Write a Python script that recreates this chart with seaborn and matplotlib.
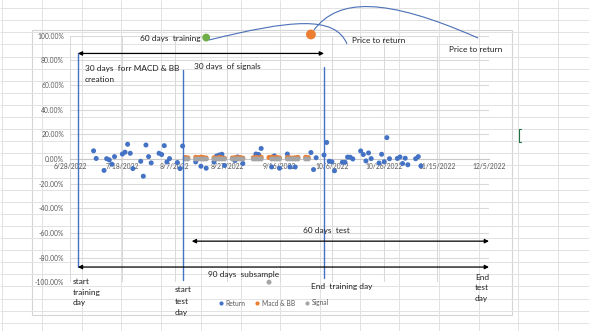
import numpy as np
import pandas as pd
import matplotlib
matplotlib.use("Agg")
import matplotlib.pyplot as plt
import matplotlib.dates as mdates
import matplotlib.ticker as mticker
from matplotlib.path import Path
from matplotlib.patches import PathPatch, Rectangle
from matplotlib.lines import Line2D
import seaborn as sns

# ---------------- data (values in %) ----------------
return_dates = ["2022-07-07", "2022-07-08", "2022-07-11", "2022-07-12", "2022-07-13", "2022-07-14",
                "2022-07-15", "2022-07-18", "2022-07-19", "2022-07-20", "2022-07-21", "2022-07-22",
                "2022-07-25", "2022-07-26", "2022-07-27", "2022-07-28", "2022-07-29", "2022-08-01",
                "2022-08-02", "2022-08-03", "2022-08-04", "2022-08-05", "2022-08-08", "2022-08-09",
                "2022-08-10", "2022-08-15", "2022-08-17", "2022-08-19", "2022-08-22", "2022-08-23",
                "2022-08-24", "2022-08-25", "2022-08-26", "2022-08-30", "2022-08-31", "2022-09-02",
                "2022-09-07", "2022-09-08", "2022-09-09", "2022-09-13", "2022-09-14", "2022-09-16",
                "2022-09-19", "2022-09-20", "2022-09-22", "2022-09-23", "2022-09-28", "2022-09-29",
                "2022-09-30", "2022-10-03", "2022-10-04", "2022-10-05", "2022-10-06", "2022-10-07",
                "2022-10-10", "2022-10-11", "2022-10-12", "2022-10-13", "2022-10-14", "2022-10-17",
                "2022-10-18", "2022-10-19", "2022-10-20", "2022-10-21", "2022-10-24", "2022-10-25",
                "2022-10-26", "2022-10-27", "2022-10-28", "2022-10-31", "2022-11-01", "2022-11-02",
                "2022-11-03", "2022-11-04", "2022-11-07", "2022-11-08", "2022-11-09"]
return_values = [6.6, 0.4, -9.3, 0.2, -0.8, -4.3,
                 1.9, 4.0, 5.5, 11.9, 4.6, -7.8,
                 -1.9, -14.0, 11.3, 1.9, -3.2, 4.6,
                 3.6, 10.8, -2.4, 0.3, -2.9, -7.8,
                 10.5, -2.4, -5.9, -7.5, -2.4, 2.4,
                 3.2, 3.8, -5.3, -1.3, 1.6, -3.7,
                 4.0, 3.6, 8.5, -6.5, 2.5, -7.5,
                 4.0, -6.5, -6.5, 1.1, 5.2, -8.6,
                 1.0, 3.2, 13.4, -1.9, -2.3, -9.6,
                 -2.7, -2.7, 1.5, 1.4, 0.0, 6.5,
                 3.6, -1.6, 4.9, 0.3, -3.3, 3.8,
                 -2.3, 17.3, 0.2, 0.4, 1.6, -3.7,
                 0.6, -4.7, 0.2, 1.9, -5.7]

signal_window_dates = ["2022-08-11", "2022-08-12", "2022-08-15", "2022-08-16", "2022-08-17", "2022-08-18",
                       "2022-08-19", "2022-08-22", "2022-08-23", "2022-08-24", "2022-08-25", "2022-08-26",
                       "2022-08-29", "2022-08-30", "2022-08-31", "2022-09-01", "2022-09-02", "2022-09-06",
                       "2022-09-07", "2022-09-08", "2022-09-09", "2022-09-12", "2022-09-13", "2022-09-14",
                       "2022-09-15", "2022-09-16", "2022-09-19", "2022-09-20", "2022-09-21", "2022-09-22",
                       "2022-09-23", "2022-09-26", "2022-09-27"]
macd_values = [1.2, 0.9, 1.4, 1.1, 1.5, 1.2,
               0.8, 1.0, 0.7, 1.3, 0.9, 0.6,
               0.8, 1.1, 0.9, 1.2, 0.7, 1.0,
               1.3, 0.9, 1.4, 1.2, 1.5, 1.0,
               1.3, 0.8, 1.1, 0.9, 0.7, 1.0,
               1.2, 1.4, 1.1]
signal_values = [0, 0, 0, 0, 0, 0,
                 0, 0, 0, 0, 0, 0,
                 0, 0, 0, 0, 0, 0,
                 0, 0, 0, -100, 0, 0,
                 0, 0, 0, 0, 0, 0,
                 0, 0, 0]

series_names = ["Return", "Macd & BB", "Signal"]
series_colors = ["#4472C4", "#ED7D31", "#A5A5A5"]

# highlighted shapes (training marker, price-to-return marker)
highlight_dates = ["2022-08-19", "2022-09-28"]
highlight_values = [98.5, 101.0]
highlight_colors = ["#70AD47", "#ED7D31"]

# x axis ticks
x_start, x_end = "2022-06-28", "2022-12-05"
tick_dates = pd.date_range(x_start, x_end, freq="20D")
y_ticks = list(range(-100, 101, 20))

# event markers (vertical lines): date, top %, bottom %
event_dates = ["2022-07-01", "2022-08-10", "2022-10-03"]
event_tops = [85.6, 72.5, 74.4]
event_bottoms = [-87.7, -98.6, -96.8]

# period arrows: start, end, level %
arrow_starts = ["2022-07-01", "2022-08-13 12:00", "2022-07-01"]
arrow_ends = ["2022-10-03", "2022-12-05", "2022-12-05"]
arrow_levels = [85.6, -66.7, -87.7]

# ---------------- build dataframe ----------------
df = pd.concat([
    pd.DataFrame({"date": pd.to_datetime(return_dates), "value": return_values, "series": "Return"}),
    pd.DataFrame({"date": pd.to_datetime(signal_window_dates), "value": macd_values, "series": "Macd & BB"}),
    pd.DataFrame({"date": pd.to_datetime(signal_window_dates), "value": signal_values, "series": "Signal"}),
], ignore_index=True)

sns.set_style("white")
plt.rcParams["font.family"] = ["Lato", "DejaVu Sans"]

W, H = 589, 331
fig = plt.figure(figsize=(W / 100, H / 100), dpi=100)
fig.patch.set_facecolor("white")

# ---------------- spreadsheet background ----------------
ax_bg = fig.add_axes([0, 0, 1, 1], zorder=-2)
ax_bg.set_xlim(0, W)
ax_bg.set_ylim(H, 0)
ax_bg.axis("off")
grid_c = "#e2e2e2"
ax_bg.vlines([2] + list(np.arange(42, W, 39.7)), 0, H, color=grid_c, lw=0.7)
ax_bg.hlines(np.arange(8.1, H, 12.1), 0, W, color=grid_c, lw=0.7)
ax_bg.add_patch(Rectangle((32, 29.5), 479.5, 285.5, facecolor="white", edgecolor="#d4d4d4", lw=0.8))
ax_bg.plot([521, 518.5, 518.5, 521], [129, 129, 142, 142], color="#217346", lw=0.8)

# ---------------- main chart ----------------
ax = fig.add_axes([70 / W, 1 - 282.2 / H, 419 / W, 246.5 / H], zorder=0)
ax.set_facecolor("none")
sns.scatterplot(data=df, x="date", y="value", hue="series", hue_order=series_names,
                palette=dict(zip(series_names, series_colors)), s=13, linewidth=0,
                legend=False, ax=ax, zorder=3, clip_on=False)
ax.scatter(pd.to_datetime(highlight_dates), highlight_values, s=[32, 50],
           c=highlight_colors, linewidths=0, zorder=6, clip_on=False)

ax.set_xlim(pd.Timestamp(x_start), pd.Timestamp(x_end))
ax.set_ylim(-100, 100)
ax.set_xticks(tick_dates)
ax.xaxis.set_major_formatter(mticker.FuncFormatter(
    lambda v, p: (lambda d: f"{d.month}/{d.day}/{d.year}")(mdates.num2date(v))))
ax.set_yticks(y_ticks)
ax.yaxis.set_major_formatter(mticker.FuncFormatter(lambda v, p: f"{v:.2f}%"))
ax.tick_params(axis="both", length=0, labelsize=4.9, labelcolor="#595959")
ax.tick_params(axis="y", pad=4.3)
ax.tick_params(axis="x", pad=3.2)
ax.set_xlabel("")
ax.set_ylabel("")
ax.grid(True, color="#d9d9d9", lw=0.75)
for s in ["top", "right", "left"]:
    ax.spines[s].set_visible(False)
ax.spines["bottom"].set_position(("data", 0))
ax.spines["bottom"].set_color("#c8c8c8")
ax.spines["bottom"].set_linewidth(0.8)

for d, t, b in zip(event_dates, event_tops, event_bottoms):
    xd = mdates.date2num(pd.Timestamp(d))
    ax.plot([xd, xd], [t, b], color="#4472C4", lw=1.0, zorder=4, clip_on=False)

for s_, e_, lv in zip(arrow_starts, arrow_ends, arrow_levels):
    ax.annotate("", xy=(mdates.date2num(pd.Timestamp(e_)), lv),
                xytext=(mdates.date2num(pd.Timestamp(s_)), lv),
                arrowprops=dict(arrowstyle="<|-|>", color="black", lw=0.9,
                                shrinkA=0, shrinkB=0, mutation_scale=6),
                annotation_clip=False, zorder=5)

# ---------------- overlay annotations (pixel space) ----------------
ax_o = fig.add_axes([0, 0, 1, 1], zorder=5)
ax_o.set_xlim(0, W)
ax_o.set_ylim(H, 0)
ax_o.axis("off")

curve_c = "#4a6fb8"
p1 = Path([(209, 40), (290, 20), (335, 15), (347, 44)],
          [Path.MOVETO, Path.CURVE4, Path.CURVE4, Path.CURVE4])
p2 = Path([(314, 30), (338, -2), (385, -3), (478, 38)],
          [Path.MOVETO, Path.CURVE4, Path.CURVE4, Path.CURVE4])
for p in (p1, p2):
    ax_o.add_patch(PathPatch(p, facecolor="none", edgecolor=curve_c, lw=0.8))

tc = "#1e1e1e"
fs = 5.95
texts = [
    (140, 38, "60 days  training"),
    (85, 68, "30 days  forr MACD & BB"),
    (85, 80, "creation"),
    (194, 67, "30 days  of signals"),
    (352, 40.5, "Price to return"),
    (449, 49.5, "Price to return"),
    (303, 230, "60 days  test"),
    (208, 275, "90 days  subsample"),
    (73, 281, "start"), (73, 292, "training"), (73, 303, "day"),
    (175, 290, "start"), (175, 301, "test"), (175, 312, "day"),
    (311, 287, "End  training day"),
    (475, 277, "End"), (475, 288, "test"), (475, 299, "day"),
]
for x, y, t in texts:
    ax_o.text(x, y, t, fontsize=fs, color=tc, ha="left", va="center")

handles = [Line2D([], [], marker="o", ls="", color=c, markersize=3.0, markeredgewidth=0, label=n)
           for n, c in zip(series_names, series_colors)]
ax_o.legend(handles=handles, loc="center", bbox_to_anchor=(273.5 / W, 1 - 303 / H),
            bbox_transform=fig.transFigure, ncol=3, frameon=False, fontsize=4.8,
            handlelength=0.8, handletextpad=0.35, columnspacing=1.3, labelcolor="#595959",
            borderpad=0, borderaxespad=0)

fig.savefig("out.png", dpi=100, facecolor="white")
